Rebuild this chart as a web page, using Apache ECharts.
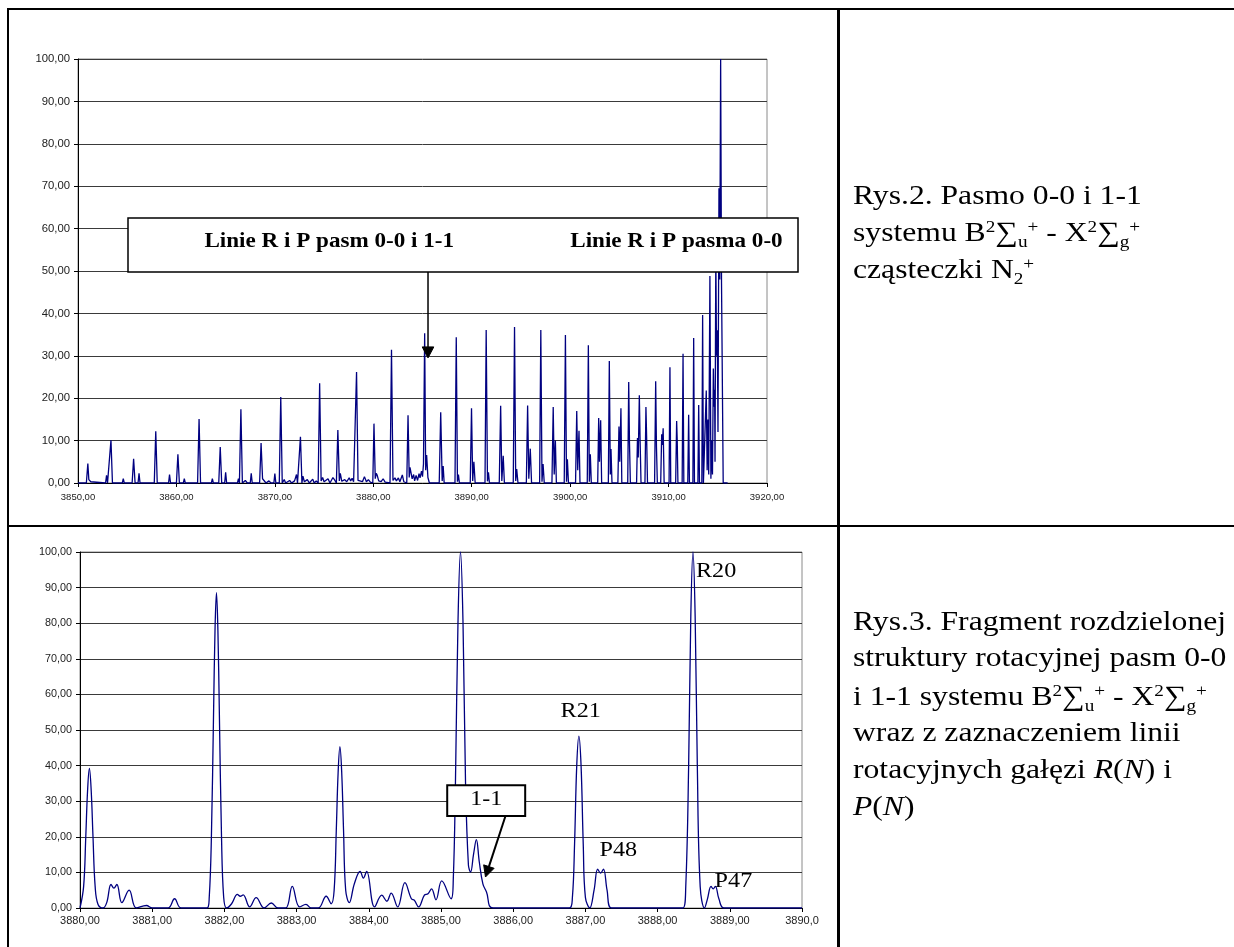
<!DOCTYPE html>
<html>
<head>
<meta charset="utf-8">
<script src="https://cdn.jsdelivr.net/npm/echarts@6/dist/echarts.min.js"></script>
<style>
html,body{margin:0;padding:0;background:#fff;overflow:hidden;}
#chart{position:absolute;left:0;top:0;width:1234px;height:947px;}
.b{position:absolute;background:#000;z-index:5;}
.cap{position:absolute;left:853px;font-family:"Liberation Serif","Times New Roman",serif;font-size:28px;line-height:28px;white-space:nowrap;color:#000;transform:scaleX(1.13);transform-origin:0 0;z-index:6;}
.sup{font-size:17px;position:relative;top:-9px;line-height:0;}
.sub{font-size:17px;position:relative;top:6px;line-height:0;}
</style>
</head>
<body>
<div id="chart"></div>
<div class="b" style="left:7px;top:8px;width:2px;height:939px;"></div>
<div class="b" style="left:7px;top:8px;width:1227px;height:2px;"></div>
<div class="b" style="left:837px;top:8px;width:3px;height:939px;"></div>
<div class="b" style="left:7px;top:525px;width:1227px;height:2px;"></div>

<div class="cap" style="top:181px;">Rys.2. Pasmo 0-0 i 1-1</div>
<div class="cap" style="top:218px;">systemu B<span class="sup">2</span>∑<span class="sub">u</span><span class="sup">+</span> - X<span class="sup">2</span>∑<span class="sub">g</span><span class="sup">+</span></div>
<div class="cap" style="top:255px;">cząsteczki N<span class="sub">2</span><span class="sup">+</span></div>

<div class="cap" style="top:607px;">Rys.3. Fragment rozdzielonej</div>
<div class="cap" style="top:643px;">struktury rotacyjnej pasm 0-0</div>
<div class="cap" style="top:682px;">i 1-1 systemu B<span class="sup">2</span>∑<span class="sub">u</span><span class="sup">+</span> - X<span class="sup">2</span>∑<span class="sub">g</span><span class="sup">+</span></div>
<div class="cap" style="top:718px;">wraz z zaznaczeniem linii</div>
<div class="cap" style="top:755px;">rotacyjnych gałęzi <i>R</i>(<i>N</i>) i</div>
<div class="cap" style="top:792px;"><i>P</i>(<i>N</i>)</div>

<script>
// ---- Rys.2: full band spectrum (wavelength, intensity) ----
const topWavelength = [
3850.00,3850.85,3851.00,3851.10,3851.30,3851.50,3852.80,3852.90,3853.00,3853.20,3853.35,3853.50,
3854.50,3854.60,3854.70,3855.50,3855.65,3855.80,3856.10,3856.20,3856.30,3857.75,3857.90,3858.05,
3859.20,3859.30,3859.40,3860.00,3860.15,3860.30,3860.70,3860.80,3860.90,3862.15,3862.30,3862.45,
3863.55,3863.65,3863.75,3864.30,3864.45,3864.60,3864.90,3865.00,3865.10,3866.20,3866.30,3866.40,
3866.55,3866.70,3867.00,3867.20,3867.50,3867.60,3867.70,3868.45,3868.60,3868.75,3868.90,3869.10,
3869.40,3869.60,3869.90,3870.00,3870.10,3870.45,3870.60,3870.75,3870.95,3871.10,3871.50,3871.70,
3872.00,3872.20,3872.30,3872.45,3872.60,3872.75,3872.85,3873.00,3873.30,3873.50,3873.85,3874.00,
3874.20,3874.40,3874.55,3874.70,3874.85,3875.00,3875.40,3875.60,3875.90,3876.10,3876.25,3876.40,
3876.55,3876.65,3876.80,3877.10,3877.30,3877.55,3877.70,3877.85,3878.00,3878.15,3878.30,3878.45,
3878.65,3878.90,3879.10,3879.30,3879.50,3879.70,3879.95,3880.07,3880.20,3880.30,3880.40,3880.55,
3880.80,3881.00,3881.20,3881.40,3881.70,3881.85,3882.00,3882.20,3882.35,3882.55,3882.70,3882.95,
3883.10,3883.40,3883.53,3883.65,3883.73,3883.82,3883.95,3884.10,3884.20,3884.35,3884.50,3884.65,
3884.75,3884.90,3885.00,3885.10,3885.22,3885.32,3885.42,3885.55,3885.70,3886.70,3886.85,3887.00,
3887.10,3887.20,3888.30,3888.43,3888.55,3888.65,3888.75,3889.85,3889.98,3890.10,3890.22,3890.35,
3891.35,3891.47,3891.60,3891.70,3891.80,3892.80,3892.94,3893.06,3893.20,3893.32,3894.22,3894.35,
3894.47,3894.57,3894.70,3895.55,3895.68,3895.80,3895.95,3896.08,3896.90,3897.02,3897.14,3897.25,
3897.37,3898.15,3898.28,3898.38,3898.50,3898.60,3899.40,3899.52,3899.63,3899.72,3899.83,3900.55,
3900.67,3900.77,3900.90,3901.00,3901.74,3901.85,3901.95,3902.05,3902.15,3902.80,3902.90,3902.98,
3903.10,3903.20,3903.88,3903.98,3904.08,3904.15,3904.25,3904.85,3904.96,3905.04,3905.16,3905.25,
3905.85,3905.95,3906.03,3906.12,3906.75,3906.84,3906.92,3907.03,3907.10,3907.20,3907.60,3907.70,
3907.77,3907.86,3908.58,3908.69,3908.77,3908.86,3909.20,3909.30,3909.36,3909.45,3909.55,3910.05,
3910.14,3910.22,3910.72,3910.82,3910.88,3910.95,3911.38,3911.47,3911.55,3911.95,3912.04,3912.12,
3912.47,3912.55,3912.63,3912.98,3913.06,3913.14,3913.38,3913.46,3913.54,3913.72,3913.83,3913.92,
3914.00,3914.08,3914.20,3914.30,3914.38,3914.46,3914.55,3914.62,3914.68,3914.72,3914.80,3914.87,
3914.95,3915.02,3915.12,3915.20,3915.29,3915.38,3915.55,3916.00
];
const topIntensity = [
0,0,4.6,0.8,0.3,0,0,1.8,0,0,10.1,0,
0,1.0,0,0,5.7,0,0,2.3,0,0,12.2,0,
0,2.0,0,0,6.8,0,0,1.0,0,0,15.1,0,
0,1.0,0,0,8.5,0,0,2.5,0,0,1.0,0,
17.4,0,0.6,0,0,2.3,0,0,9.4,1.0,0.8,0,
0.5,0,0,2.2,0,0,20.3,0,0.8,0,0.6,0,
0.5,2.0,0,0,10.9,0,1.6,0.3,0.8,0,0.9,0,
0.5,0,23.5,0.5,1.3,0.3,1.0,0,1.3,0.6,0,12.5,
0.5,2.3,0.4,0.8,0.3,1.2,0.5,1.1,0.3,0,26.2,0.6,
1.0,0.3,1.5,0.3,0.8,0.2,0,14.0,1.0,2.3,1.8,0.5,
0.3,1.0,0.2,0.6,0,31.4,0.6,1.2,0.5,1.2,0.3,1.9,
0.3,0,16.0,1.3,3.7,3.3,1.0,2.0,0.5,1.8,0.6,2.2,
1.2,2.8,1.5,4.5,35.3,3.0,6.6,1.3,0,0,16.7,0.5,
4.0,0,0,34.4,0.3,2.0,0,0,17.6,0.5,5.0,0,
0,36.1,0.4,2.5,0,0,18.2,0.5,6.4,0,0,36.8,
0.5,3.3,0,0,18.3,1.0,8.1,0,0,36.1,0.3,4.5,
0,0,17.9,2.0,10.0,0,0,34.9,0.3,5.6,0,0,
17.0,3.0,12.3,0,0,32.5,0.3,6.8,0,0,15.3,5.0,
14.8,0,0,28.8,2.0,8.0,0,0,13.3,5.0,17.6,0,
0,23.8,9.4,0,0,10.6,6.0,20.7,10.9,0,0,17.9,
10.9,0,0,24.0,8.5,0,0,11.5,9.0,12.9,0,0,
27.3,0,0,14.6,9.9,0,0,30.5,0,0,16.1,0,
0,34.2,0,0,18.4,0,0,39.6,0,0,21.8,3.0,
15.0,2.0,48.8,1.0,10.0,2.0,27.0,18.0,22.0,5.0,55.0,30.0,
36.0,12.0,69.5,48.0,100.0,47.0,0,0
];

// ---- Rys.3: resolved fragment (wavelength, intensity) ----
const fragWavelength = [
3880.00,3880.05,3880.08,3880.105,3880.13,3880.155,3880.18,3880.21,3880.25,3880.32,
3880.37,3880.43,3880.47,3880.51,3880.58,3880.68,3880.78,3880.92,3881.00,3881.22,3881.31,3881.40,
3881.76,3881.79,3881.82,3881.85,3881.87,3881.89,3881.91,3881.93,3881.96,3881.99,3882.03,
3882.10,3882.18,3882.22,3882.26,3882.35,3882.44,3882.55,3882.65,3882.74,3882.85,3882.94,
3883.04,3883.13,3883.20,3883.30,3883.41,3883.48,3883.52,3883.55,3883.575,3883.60,3883.625,
3883.65,3883.68,3883.73,3883.80,3883.88,3883.925,3883.97,3884.08,3884.18,3884.25,3884.31,
3884.40,3884.50,3884.59,3884.63,3884.69,3884.77,3884.82,3884.87,3884.93,3885.01,3885.14,
3885.17,3885.20,3885.235,3885.27,3885.305,3885.34,3885.38,3885.41,3885.45,3885.49,3885.53,
3885.58,3885.63,3885.72,3886.78,3886.82,3886.85,3886.88,3886.91,3886.94,3886.97,3887.00,
3887.06,3887.12,3887.17,3887.21,3887.25,3887.30,3887.36,3888.35,3888.39,3888.43,3888.46,
3888.49,3888.52,3888.55,3888.59,3888.65,3888.69,3888.74,3888.77,3888.80,3888.85,3888.92,3890.00
];
const fragIntensity = [
0,6,20,33,39.2,33,20,6,1,0,
1.5,6.6,5.6,6.6,1.5,5.0,0,0.7,0,0,2.6,0,
0,3,20,55,78,88.6,78,55,20,3,0,
1.2,3.8,3.3,3.7,0.3,2.9,0,1.4,0,0,6.1,
0.3,1.0,0,0,3.3,1.2,5,22,38,45.3,38,
22,5,1.5,6.8,10.3,8.4,10.3,0.3,3.6,1.9,4.2,
0.3,7.1,2.6,2.2,0.3,3.6,4.0,5.4,2.3,7.6,2.6,
8,35,80,100,80,35,12,10.1,15,19.2,13,
6.8,4.5,0,0,3,18,40,48.3,40,18,3,
0,5,10.9,9.8,10.9,5,0,0,6,40,82,
100,82,40,6,0,2.5,6.1,5.4,6.1,2.5,0,0
];

// annotation texts
const topBoxTexts = ['Linie R i P pasm 0-0 i 1-1', 'Linie R i P pasma 0-0'];
const fragLabels = ['R20', 'R21', 'P48', 'P47'];
const fragBoxText = '1-1';

const fmt = v => v.toFixed(2).replace('.', ',');

const chart = echarts.init(document.getElementById('chart'), null, {renderer: 'canvas'});

const axisCommon = {
  type: 'value',
  axisLine: {show: true, onZero: false, lineStyle: {color: '#000', width: 1}},
  axisTick: {show: true, inside: false, length: 4, lineStyle: {color: '#000'}},
  splitLine: {show: false}
};
const lblFont = 'Liberation Sans, Arial, sans-serif';

chart.setOption({
  animation: false,
  backgroundColor: '#fff',
  grid: [
    {left: 78, top: 59, width: 689, height: 424, show: true, borderColor: '#8a8a8a', borderWidth: 1, backgroundColor: 'transparent'},
    {left: 80, top: 552, width: 722, height: 356, show: true, borderColor: '#8a8a8a', borderWidth: 1, backgroundColor: 'transparent'}
  ],
  xAxis: [
    Object.assign({}, axisCommon, {gridIndex: 0, min: 3850, max: 3920, interval: 10,
      axisLabel: {formatter: fmt, fontSize: 9.5, color: '#222', margin: 9, fontFamily: lblFont}}),
    Object.assign({}, axisCommon, {gridIndex: 1, min: 3880, max: 3890, interval: 1,
      axisLabel: {formatter: v => (v === 3890 ? '3890,0' : fmt(v)), fontSize: 11, color: '#222', margin: 7, fontFamily: lblFont}})
  ],
  yAxis: [
    Object.assign({}, axisCommon, {gridIndex: 0, min: 0, max: 100, interval: 10,
      axisLabel: {formatter: fmt, fontSize: 11.3, color: '#222', margin: 8, fontFamily: lblFont},
      splitLine: {show: true, lineStyle: {color: '#3a3a3a', width: 1}}}),
    Object.assign({}, axisCommon, {gridIndex: 1, min: 0, max: 100, interval: 10,
      axisLabel: {formatter: fmt, fontSize: 10.8, color: '#222', margin: 8, fontFamily: lblFont},
      splitLine: {show: true, lineStyle: {color: '#3a3a3a', width: 1}}})
  ],
  series: [
    {type: 'line', xAxisIndex: 0, yAxisIndex: 0, showSymbol: false, symbol: 'none',
     data: topWavelength.map((x, i) => [x, topIntensity[i]]),
     lineStyle: {color: '#000080', width: 1.3}, itemStyle: {color: '#000080'}, z: 3},
    {type: 'line', xAxisIndex: 1, yAxisIndex: 1, showSymbol: false, symbol: 'none', smooth: 0.4,
     data: fragWavelength.map((x, i) => [x, fragIntensity[i]]),
     lineStyle: {color: '#000080', width: 1.3}, itemStyle: {color: '#000080'}, z: 3}
  ]
});

// ---- annotations placed in data coordinates ----
const P = (g, x, y) => chart.convertToPixel({gridIndex: g}, [x, y]);

function textEl(pt, txt, size, weight, sx) {
  return {type: 'text', x: pt[0], y: pt[1], scaleX: sx, scaleY: 1, z: 110,
    style: {text: txt, fontSize: size, fontFamily: 'Liberation Serif, Times New Roman, serif', fontWeight: weight,
      fill: '#000', align: 'center', verticalAlign: 'middle', textAlign: 'center', textVerticalAlign: 'middle', x: 0, y: 0}};
}
function rectEl(p1, p2, lw) {
  return {type: 'rect', z: 105,
    shape: {x: Math.min(p1[0], p2[0]), y: Math.min(p1[1], p2[1]), width: Math.abs(p2[0] - p1[0]), height: Math.abs(p2[1] - p1[1])},
    style: {fill: '#fff', stroke: '#000', lineWidth: lw}};
}
function arrowEls(a, t, headLen, headW, lw) {
  const dx = t[0] - a[0], dy = t[1] - a[1];
  const L = Math.sqrt(dx * dx + dy * dy);
  const ux = dx / L, uy = dy / L, nx = -uy, ny = ux;
  const bx = t[0] - ux * headLen, by = t[1] - uy * headLen;
  return [
    {type: 'line', z: 106, shape: {x1: a[0], y1: a[1], x2: bx, y2: by}, style: {stroke: '#000', lineWidth: lw}},
    {type: 'polygon', z: 106, shape: {points: [[t[0], t[1]], [bx + nx * headW, by + ny * headW], [bx - nx * headW, by - ny * headW]]},
     style: {fill: '#000', stroke: '#000', lineWidth: 1}}
  ];
}

const g = [];
// Rys.2 box + arrow
g.push(rectEl(P(0, 3855.08, 62.5), P(0, 3923.15, 49.76), 1.5));
g.push(textEl(P(0, 3875.52, 56.84), topBoxTexts[0], 21, 'bold', 1.1));
g.push(textEl(P(0, 3910.8, 56.84), topBoxTexts[1], 21, 'bold', 1.1));
arrowEls(P(0, 3885.56, 49.76), P(0, 3885.56, 29.5), 11, 5.8, 1.5).forEach(e => g.push(e));

// Rys.3 labels
const fragLabelPos = [[3888.81, 94.4], [3886.935, 55.3], [3887.457, 16.2], [3889.05, 7.5]];
fragLabels.forEach((t, i) => g.push(textEl(P(1, fragLabelPos[i][0], fragLabelPos[i][1]), t, 21, 'normal', 1.15)));
g.push(rectEl(P(1, 3885.086, 34.5), P(1, 3886.166, 25.86), 2));
g.push(textEl(P(1, 3885.626, 30.3), fragBoxText, 20, 'normal', 1.2));
arrowEls(P(1, 3885.893, 25.86), P(1, 3885.616, 8.7), 11, 5.5, 2).forEach(e => g.push(e));

chart.setOption({graphic: {elements: g}});
</script>
</body>
</html>
